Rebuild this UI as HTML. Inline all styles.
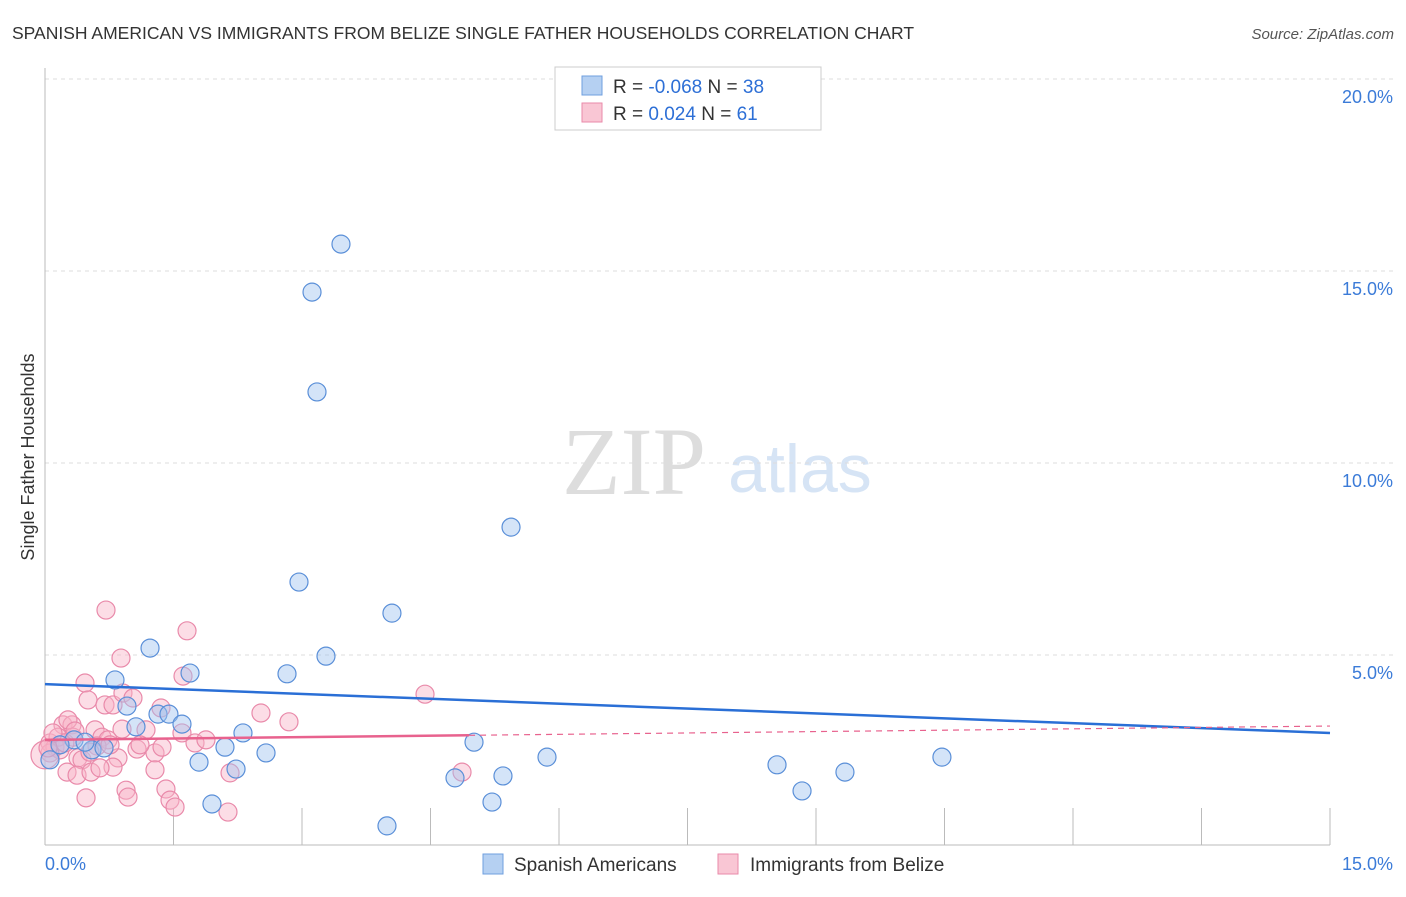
<!DOCTYPE html>
<html><head><meta charset="utf-8"><style>
body{margin:0;background:#fff;font-family:"Liberation Sans",sans-serif}
svg text{font-family:"Liberation Sans",sans-serif}
</style></head><body>
<svg id="c" width="1406" height="892">
<text x="12" y="39" font-size="17.5" fill="#333">SPANISH AMERICAN VS IMMIGRANTS FROM BELIZE SINGLE FATHER HOUSEHOLDS CORRELATION CHART</text>
<text x="1394" y="39" font-size="15" fill="#555" font-style="italic" text-anchor="end">Source: ZipAtlas.com</text>
<text x="34" y="457" font-size="18" fill="#333" text-anchor="middle" transform="rotate(-90 34 457)">Single Father Households</text>
<text x="634" y="494" font-size="96" fill="#ddd" font-family="Liberation Serif" text-anchor="middle" style="font-family:'Liberation Serif',serif">ZIP</text>
<text x="800" y="492" font-size="68" fill="#d6e4f5" text-anchor="middle">atlas</text>
<g id="grid"></g><g id="marks"></g>
<g>
<rect x="555" y="67" width="266" height="63" fill="#fff" stroke="#ccc"/>
<rect x="582" y="76" width="20" height="19" fill="#b5d0f2" stroke="#6f9fdf"/>
<rect x="582" y="103" width="20" height="19" fill="#f9c6d4" stroke="#e98aaa"/>
<text x="613" y="93" font-size="19" fill="#333">R = <tspan fill="#2d6fd6">-0.068</tspan>   N = <tspan fill="#2d6fd6">38</tspan></text>
<text x="613" y="120" font-size="19" fill="#333">R =  <tspan fill="#2d6fd6"> 0.024</tspan>   N =  <tspan fill="#2d6fd6">61</tspan></text>
</g>
<g>
<rect x="483" y="854" width="20" height="20" fill="#b5d0f2" stroke="#6f9fdf"/>
<text x="514" y="871" font-size="19" fill="#333">Spanish Americans</text>
<rect x="718" y="854" width="20" height="20" fill="#f9c6d4" stroke="#e98aaa"/>
<text x="750" y="871" font-size="19" fill="#333">Immigrants from Belize</text>
</g>
</svg>
<script>
const yTicks=[5,10,15,20];
const yTickLabels=["5.0%","10.0%","15.0%","20.0%"];
const xTickLabels=["0.0%","15.0%"];
const blueX=[3.455,3.117,3.175,5.44,2.965,4.05,1.226,3.28,1.693,2.825,0.817,0.957,1.319,1.447,1.599,1.062,2.311,5.008,2.101,0.549,0.689,2.58,1.798,5.86,10.47,2.23,8.545,9.338,5.346,4.786,8.837,5.218,1.949,3.992,0.339,0.175,0.058,0.467];
const blueY=[15.7,14.45,11.85,8.33,6.9,6.09,5.18,4.97,4.53,4.51,4.35,3.67,3.46,3.46,3.2,3.13,2.97,2.73,2.6,2.53,2.58,2.45,2.21,2.34,2.34,2.03,2.14,1.95,1.85,1.8,1.46,1.17,1.12,0.55,2.79,2.66,2.27,2.73];
const pinkX=[0.712,1.658,0.887,1.611,0.467,0.502,0.7,0.794,0.91,1.027,1.354,2.521,2.848,0.21,0.315,0.584,0.899,1.179,1.599,0.327,0.665,0.735,1.074,1.284,1.366,1.751,1.879,0.852,0.385,0.432,0.794,0.257,0.374,0.537,1.284,2.16,1.412,0.946,0.969,0.479,1.459,1.518,2.136,0.058,0.117,0.058,0.152,0.175,0.233,4.436,4.868,0.0,0.035,0.093,0.268,0.35,0.607,0.759,0.525,1.109,0.642];
const pinkY=[6.17,5.63,4.92,4.45,4.27,3.83,3.7,3.7,4.01,3.88,3.62,3.49,3.26,3.18,3.18,3.05,3.07,3.05,2.97,2.86,2.86,2.79,2.55,2.45,2.6,2.71,2.79,2.32,2.32,2.27,2.08,1.95,1.87,1.95,2.01,1.93,1.51,1.48,1.3,1.28,1.22,1.04,0.91,2.71,2.6,2.45,2.86,2.53,2.71,3.98,1.95,2.4,2.58,2.97,3.31,3.02,2.63,2.66,2.47,2.66,2.06];
const blueTrend=[4.24,2.97];
const pinkTrend=[2.79,3.15];
const X=v=>45+v/15*1285, Y=v=>847-v/5*192;
const NS="http://www.w3.org/2000/svg";
function mk(t,a,p){const e=document.createElementNS(NS,t);for(const k in a)e.setAttribute(k,a[k]);p.appendChild(e);return e;}
const g=document.getElementById('grid'), m=document.getElementById('marks');
yTicks.forEach((t,i)=>{
 const l=mk('line',{x1:45,x2:1393,y1:Y(t),y2:Y(t),stroke:'#ddd','stroke-dasharray':'4,4'},g);
 
 
 const tx=mk('text',{x:1393,y:Y(t)+24,'font-size':18,fill:'#3b7bd8','text-anchor':'end'},g);
 tx.textContent=yTickLabels[i];
 
 
});
mk('line',{x1:45,x2:45,y1:68,y2:845,stroke:'#bbb'},g);
mk('line',{x1:45,x2:1330,y1:845,y2:845,stroke:'#bbb'},g);
for(let i=0;i<=10;i++){const v=i*1.5;const t=mk('line',{x1:X(v),x2:X(v),y1:808,y2:845,stroke:'#bbb'},g);
 
 }
[[0,'start',45],[15,'end',1393]].forEach((d,i)=>{const t=mk('text',{x:d[2],y:870,'font-size':18,fill:'#3b7bd8','text-anchor':d[1]},g);t.textContent=xTickLabels[i];
 
 });
pinkX.forEach((x,i)=>{const c=mk('circle',{cx:X(x),cy:Y(pinkY[i]),r:(i==51?14:9),fill:'rgba(248,180,200,0.45)',stroke:'#e98aaa','stroke-width':1.2},m);
 
 });
blueX.forEach((x,i)=>{const c=mk('circle',{cx:X(x),cy:Y(blueY[i]),r:9,fill:'rgba(160,196,240,0.45)',stroke:'#5a8fd8','stroke-width':1.2},m);
 
 });
const bl=mk('line',{x1:X(0),y1:Y(blueTrend[0]),x2:X(15),y2:Y(blueTrend[1]),stroke:'#2a6fd6','stroke-width':2.5},m);


const pm=pinkTrend[0]+(pinkTrend[1]-pinkTrend[0])*(4.95/15);
const pl=mk('line',{x1:X(0),y1:Y(pinkTrend[0]),x2:X(4.95),y2:Y(pm),stroke:'#e8628e','stroke-width':2.5},m);


const pd=mk('line',{x1:X(4.95),y1:Y(pm),x2:X(15),y2:Y(pinkTrend[1]),stroke:'#e8628e','stroke-width':1.2,'stroke-dasharray':'6,5'},m);


</script>
</body></html>
